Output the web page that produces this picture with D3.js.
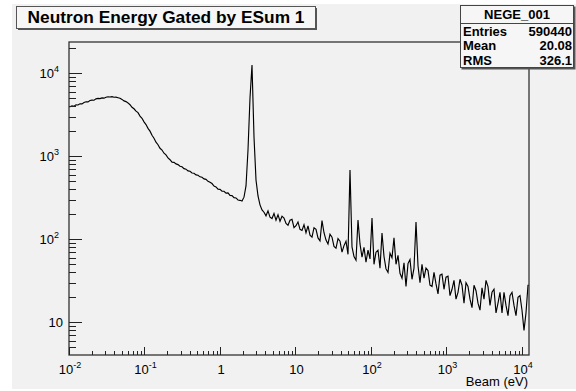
<!DOCTYPE html>
<html><head><meta charset="utf-8">
<script src="https://cdn.jsdelivr.net/npm/d3@7"></script>
<style>html,body{margin:0;padding:0;background:#fff;} svg{display:block;}</style>
</head><body>
<svg id="c" width="576" height="391"></svg>
<script>
// ---------- data ----------
const title = "Neutron Energy Gated by ESum 1";
const statsName = "NEGE_001";
const statsLabels = ["Entries", "Mean", "RMS"];
const statsValues = ["590440", "20.08", "326.1"];
const xAxisTitle = "Beam (eV)";
const energyMin = 0.01, energyMax = 12380, nBins = 230;
const countMin = 4.04, countMax = 23830;
const xTickValues = [0.01, 0.1, 1, 10, 100, 1000, 10000];
const xTickLabels = ["10^-2", "10^-1", "1", "10", "10^2", "10^3", "10^4"];
const yTickValues = [10, 100, 1000, 10000];
const yTickLabels = ["10", "10^2", "10^3", "10^4"];

const lowEnergyCounts = [
  3950,4060,4010,4180,4150,4300,4280,4450,4540,4520,
  4700,4760,4740,4920,4990,4950,5060,5020,5150,5220,
  5180,5240,5150,5160,5080,5000,4850,4650,4560,4400,
  4180,3900,3740,3500,3360,3050,2870,2600,2410,2170,
  2010,1790,1650,1480,1380,1250,1190,1090,1040,955,
  910,850,845,810,795,760,748,710,700,668,
  660,630,625,598,592,566,560,534,528,500,
  488,470,438,428,402,400,380,379,360,362,
  338,336,318,315,298,295
];
const resonanceCounts = [290,322,440,1190,5050,12600,1710,518,333,260,226];
const tailCounts = [
  212,192,220,185,178,205,170,198,165,190,
  180,155,148,170,174,138,146,162,132,128,
  150,120,145,112,106,138,132,104,96,168,
  120,98,88,115,106,82,78,102,95,70,
  84,95,66,684,81,62,56,171,88,61,
  80,53,74,58,181,50,70,74,45,119,
  62,44,40,68,60,104,50,64,39,34,
  52,27,51,57,33,45,162,48,30,50,
  34,45,42,28,27,40,29,22,37,38,
  25,35,36,21,25,32,19,23,33,28,
  17,30,27,19,15,28,24,17,14,26,
  19,32,27,16,23,25,13,17,23,13,
  23,16,12,21,23,16,12,20,21,14,
  8,13,28
];

// ---------- layout ----------
const W = 576, H = 391;
const plot = {l: 69, r: 529, t: 42, b: 355};
const FONT = "'Liberation Sans', Arial, Helvetica, sans-serif";
const svg = d3.select("#c");

svg.append("rect").attr("x", 0).attr("y", 0).attr("width", W).attr("height", H).attr("fill", "#fff");
svg.append("rect").attr("x", 12).attr("y", 4).attr("width", W - 12).attr("height", 385).attr("fill", "#f1f1f1");

const x = d3.scaleLog().domain([energyMin, energyMax]).range([plot.l, plot.r]);
const y = d3.scaleLog().domain([countMin, countMax]).range([plot.b, plot.t]);

// histogram (bins drawn through their log-centres)
const counts = lowEnergyCounts.concat(resonanceCounts, tailCounts);
const edges = d3.range(nBins + 1).map(i => energyMin * Math.pow(energyMax / energyMin, i / nBins));
const pts = counts.map((c, i) => [Math.sqrt(edges[i] * edges[i + 1]), c]);
pts.unshift([edges[0], counts[0]]);
pts.push([edges[nBins], counts[counts.length - 1]]);

svg.append("clipPath").attr("id", "clip").append("rect")
  .attr("x", plot.l).attr("y", plot.t).attr("width", plot.r - plot.l).attr("height", plot.b - plot.t);

const line = d3.line().x(d => x(d[0])).y(d => y(d[1]));
svg.append("path").attr("d", line(pts)).attr("clip-path", "url(#clip)")
  .attr("fill", "none").attr("stroke", "#000").attr("stroke-width", 1.15)
  .attr("stroke-linejoin", "miter");

// frame
svg.append("rect").attr("x", plot.l).attr("y", plot.t)
  .attr("width", plot.r - plot.l).attr("height", plot.b - plot.t)
  .attr("fill", "none").attr("stroke", "#333").attr("stroke-width", 1.3);

// ticks
const g = svg.append("g").attr("stroke", "#222").attr("stroke-width", 1);
for (let k = -2; k <= 4; k++) {
  for (let m = 1; m <= 9; m++) {
    const v = m * Math.pow(10, k);
    if (v < energyMin * 0.999 || v > energyMax) continue;
    const len = m === 1 ? 8 : 4;
    const px = Math.round(x(v)) + 0.5;
    g.append("line").attr("x1", px).attr("x2", px).attr("y1", plot.b).attr("y2", plot.b - len);
  }
}
for (let k = 0; k <= 4; k++) {
  for (let m = 1; m <= 9; m++) {
    const v = m * Math.pow(10, k);
    if (v < countMin || v > countMax) continue;
    const len = m === 1 ? 13 : 7;
    const py = Math.round(y(v)) + 0.5;
    g.append("line").attr("x1", plot.l).attr("x2", plot.l + len).attr("y1", py).attr("y2", py);
  }
}

function addLabel(str, px, py, anchor) {
  const [base, exp] = str.split("^");
  const t = svg.append("text").attr("x", px).attr("y", py)
    .attr("text-anchor", anchor).attr("font-family", FONT).attr("font-size", 13).attr("fill", "#000");
  t.append("tspan").text(base);
  if (exp) t.append("tspan").attr("dy", -6).attr("font-size", 9).text(exp);
  return t;
}
xTickValues.forEach((v, i) => addLabel(xTickLabels[i], x(v) + 1, 374, "middle"));
yTickValues.forEach((v, i) => {
  const hasExp = yTickLabels[i].includes("^");
  addLabel(yTickLabels[i], hasExp ? 59 : 63, y(v) + 5, "end");
});

svg.append("text").attr("x", 528).attr("y", 386).attr("text-anchor", "end")
  .attr("font-family", FONT).attr("font-size", 13).text(xAxisTitle);

// title box
svg.append("rect").attr("x", 18).attr("y", 8).attr("width", 299).attr("height", 22).attr("fill", "#555");
svg.append("rect").attr("x", 16.5).attr("y", 6.5).attr("width", 299).attr("height", 22)
  .attr("fill", "#f6f6f6").attr("stroke", "#555").attr("stroke-width", 1);
svg.append("text").attr("x", 166).attr("y", 23).attr("text-anchor", "middle")
  .attr("font-family", FONT).attr("font-weight", "bold").attr("font-size", 17)
  .attr("textLength", 277).attr("lengthAdjust", "spacingAndGlyphs").text(title);

// stats box
svg.append("rect").attr("x", 461.5).attr("y", 6.5).attr("width", 114).attr("height", 63).attr("fill", "#555");
svg.append("rect").attr("x", 460.5).attr("y", 5.5).attr("width", 113).attr("height", 62)
  .attr("fill", "#f6f6f6").attr("stroke", "#444").attr("stroke-width", 1);
svg.append("line").attr("x1", 460.5).attr("x2", 573.5).attr("y1", 23.5).attr("y2", 23.5)
  .attr("stroke", "#444");
svg.append("text").attr("x", 517).attr("y", 18.5).attr("text-anchor", "middle")
  .attr("font-family", FONT).attr("font-weight", "bold").attr("font-size", 13).text(statsName);
const rowY = [35.5, 50, 64.5];
statsLabels.forEach((lab, i) => {
  svg.append("text").attr("x", 463).attr("y", rowY[i]).attr("font-family", FONT)
    .attr("font-weight", "bold").attr("font-size", 13).text(lab);
  svg.append("text").attr("x", 572).attr("y", rowY[i]).attr("text-anchor", "end").attr("font-family", FONT)
    .attr("font-weight", "bold").attr("font-size", 13).text(statsValues[i]);
});
</script>
</body></html>
